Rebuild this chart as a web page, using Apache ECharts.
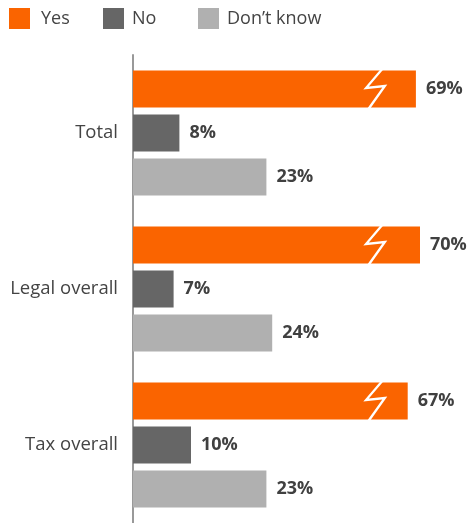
<!DOCTYPE html>
<html>
<head>
<meta charset="utf-8">
<script src="https://cdn.jsdelivr.net/npm/echarts@6/dist/echarts.min.js"></script>
<style>
  html, body { margin: 0; padding: 0; background: #fff; }
  #main { width: 467px; height: 523px; }
</style>
</head>
<body>
<div id="main"></div>
<script>
var categories = ['Total', 'Legal overall', 'Tax overall'];
var seriesNames = ['Yes', 'No', 'Don\u2019t know'];
var yesValues = [69, 70, 67];
var noValues = [8, 7, 10];
var dontKnowValues = [23, 24, 23];
// where the broken-scale mark sits on the Yes bars
var breakAt = 59.1;

var chart = echarts.init(document.getElementById('main'));
var font = 'Open Sans';

function valueLabel() {
    return {
        show: true,
        position: 'right',
        distance: 10,
        formatter: '{c}%',
        fontFamily: font,
        fontSize: 18,
        fontWeight: 'bold',
        color: '#404040'
    };
}

// one legend per item so each sits where it does in the original
function legendItem(name, left, pad) {
    return {
        left: left,
        top: 8,
        padding: 0,
        itemWidth: 21,
        itemHeight: 21,
        icon: 'rect',
        data: [name],
        textStyle: {fontFamily: font, fontSize: 18, color: '#444', padding: [0, 0, 0, pad]}
    };
}

var option = {
    animation: false,
    textStyle: {fontFamily: font},
    legend: [
        legendItem(seriesNames[0], 9, 6),
        legendItem(seriesNames[1], 103, 3),
        legendItem(seriesNames[2], 198, 3)
    ],
    grid: {left: 133, right: 6, top: 55, bottom: -3, containLabel: false},
    xAxis: [
        {type: 'value', min: 0, max: 56.55, show: false},
        {type: 'value', min: 0, max: 80, show: false}
    ],
    yAxis: {
        type: 'category',
        inverse: true,
        data: categories,
        axisLine: {lineStyle: {color: '#999', width: 2}},
        axisTick: {show: false},
        axisLabel: {margin: 15, fontFamily: font, fontSize: 18.5, color: '#444'}
    },
    series: [
        {
            name: seriesNames[0],
            type: 'bar',
            xAxisIndex: 1,
            data: yesValues,
            barWidth: 37,
            barGap: '19%',
            itemStyle: {color: '#fa6400'},
            label: valueLabel()
        },
        {
            name: seriesNames[1],
            type: 'bar',
            xAxisIndex: 0,
            data: noValues,
            barWidth: 37,
            barGap: '19%',
            itemStyle: {color: '#666666'},
            label: valueLabel()
        },
        {
            name: seriesNames[2],
            type: 'bar',
            xAxisIndex: 0,
            data: dontKnowValues,
            barWidth: 37,
            barGap: '19%',
            itemStyle: {color: '#b0b0b0'},
            label: valueLabel()
        },
        {
            // break marks drawn over the Yes bars
            name: 'break',
            type: 'scatter',
            xAxisIndex: 1,
            z: 10,
            silent: true,
            symbol: 'path://M17,0 L20,0 L5.5,17 L24,15 L7,39 L4,39 L19,18 L0,20 Z',
            symbolSize: [24, 39],
            symbolOffset: [0, -44],
            symbolKeepAspect: false,
            itemStyle: {color: '#ffffff', opacity: 1},
            data: categories.map(function (c) {
                return [breakAt, c];
            })
        }
    ]
};

chart.setOption(option);
window.onresize = chart.resize;
</script>
</body>
</html>
